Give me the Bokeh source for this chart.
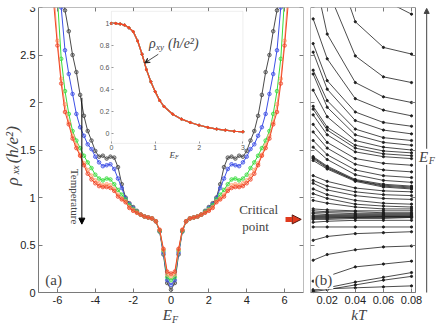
import math
from bokeh.plotting import figure
from bokeh.layouts import row
from bokeh.models import (Range1d, LinearAxis, FixedTicker, CustomJSTickFormatter,
                          BoxAnnotation, Label, Arrow, NormalHead, VeeHead)
from bokeh.embed import file_html
from bokeh.resources import INLINE

# ---------------- data: panel (a) (read for E_F >= 0, curves are symmetric) ----------
ef_pos = [0.0, 0.2, 0.4, 0.6, 0.8, 1.0, 1.2, 1.4, 1.6, 1.8, 2.0, 2.2, 2.4, 2.6, 2.8,
          3.0, 3.2, 3.4, 3.6, 3.8, 4.0, 4.2, 4.4, 4.6, 4.8, 5.0, 5.2, 5.4, 5.6, 5.8,
          6.0, 6.2, 6.4]
rho_t1 = [0.03, 0.10, 0.40, 0.64, 0.75, 0.78, 0.79, 0.80, 0.82, 0.86, 0.90, 0.94, 1.00,
          1.14, 1.32, 1.42, 1.43, 1.41, 1.44, 1.43, 1.49, 1.60, 1.70, 1.86, 2.08, 2.32,
          2.50, 2.75, 2.97, 3.30, 3.70, 4.20, 4.80]
rho_t2 = [0.08, 0.13, 0.42, 0.65, 0.75, 0.78, 0.79, 0.80, 0.82, 0.85, 0.89, 0.93, 0.99,
          1.10, 1.20, 1.30, 1.35, 1.34, 1.33, 1.37, 1.43, 1.51, 1.56, 1.65, 1.74, 1.88,
          2.09, 2.30, 2.55, 3.00, 3.50, 4.00, 4.50]
rho_t3 = [0.13, 0.16, 0.44, 0.65, 0.75, 0.78, 0.79, 0.80, 0.82, 0.85, 0.88, 0.92, 0.98,
          1.03, 1.08, 1.14, 1.19, 1.20, 1.18, 1.20, 1.24, 1.31, 1.37, 1.44, 1.52, 1.60,
          1.70, 1.88, 2.12, 2.46, 3.10, 3.70, 4.30]
rho_t4 = [0.17, 0.19, 0.45, 0.66, 0.75, 0.78, 0.79, 0.80, 0.82, 0.84, 0.87, 0.90, 0.96,
          0.99, 1.03, 1.09, 1.13, 1.14, 1.13, 1.15, 1.18, 1.23, 1.29, 1.36, 1.45, 1.55,
          1.65, 1.79, 1.98, 2.25, 2.65, 3.20, 3.80]
rho_t5 = [0.20, 0.22, 0.46, 0.66, 0.75, 0.78, 0.79, 0.80, 0.82, 0.84, 0.86, 0.89, 0.95,
          0.98, 1.01, 1.07, 1.10, 1.11, 1.11, 1.12, 1.15, 1.19, 1.25, 1.34, 1.44, 1.52,
          1.62, 1.77, 1.90, 2.20, 2.60, 3.05, 3.50]
curve_colors = ["#4a4a4a", "#3d4fe6", "#36dc3c", "#ffa274", "#f04628"]

# inset: rho_xy vs E_F
inset_ef = [0.0, 0.1, 0.2, 0.3, 0.4, 0.5, 0.6, 0.7, 0.8, 0.9, 1.0, 1.1, 1.2, 1.4, 1.6,
            1.8, 2.0, 2.2, 2.4, 2.6, 2.8, 3.0]
inset_rho_xy = [1.0, 1.0, 0.995, 0.985, 0.96, 0.925, 0.84, 0.72, 0.58, 0.47, 0.38, 0.30,
                0.245, 0.175, 0.13, 0.10, 0.075, 0.055, 0.04, 0.03, 0.02, 0.015]

x_ticks = [-6, -4, -2, 0, 2, 4, 6]
y_ticks = [0, 0.5, 1, 1.5, 2, 2.5, 3]
inset_x_ticks = [0, 1, 2, 3]
inset_y_ticks = [0, 0.2, 0.4, 0.6, 0.8, 1]

# ---------------- data: panel (b) rho_xx vs kT, one line per E_F ----------------
kt_values = [0.01, 0.02, 0.04, 0.06, 0.08]
kt_ticks = [0.02, 0.04, 0.06, 0.08]
upper_lines = [
    [4.60, 4.00, 3.40, 3.08, 2.93],
    [4.40, 3.70, 2.85, 2.58, 2.51],
    [3.90, 3.20, 2.49, 2.27, 2.21],
    [3.40, 2.72, 2.21, 2.06, 2.00],
    [2.88, 2.46, 2.04, 1.92, 1.86],
    [2.62, 2.23, 1.90, 1.79, 1.75],
    [2.53, 2.14, 1.81, 1.71, 1.67],
    [2.34, 2.02, 1.72, 1.63, 1.60],
    [2.30, 1.95, 1.66, 1.58, 1.55],
    [2.13, 1.85, 1.60, 1.53, 1.50],
    [1.96, 1.74, 1.55, 1.49, 1.47],
    [1.93, 1.71, 1.52, 1.46, 1.44],
    [1.87, 1.66, 1.48, 1.43, 1.41],
    [1.77, 1.58, 1.41, 1.36, 1.34],
    [1.69, 1.52, 1.35, 1.29, 1.27],
    [1.60, 1.45, 1.29, 1.23, 1.21],
    [1.53, 1.40, 1.24, 1.18, 1.16],
]
thick_lines = [
    [1.43, 1.33, 1.19, 1.14, 1.12],
    [1.42, 1.32, 1.18, 1.13, 1.11],
    [1.41, 1.31, 1.18, 1.12, 1.10],
    [1.39, 1.30, 1.17, 1.11, 1.09],
]
middle_lines = [
    [1.23, 1.17, 1.10, 1.07, 1.06],
    [1.18, 1.12, 1.06, 1.03, 1.02],
    [1.15, 1.08, 1.02, 0.99, 0.98],
    [1.09, 1.03, 0.97, 0.94, 0.93],
    [1.04, 0.99, 0.93, 0.91, 0.90],
    [0.97, 0.94, 0.90, 0.88, 0.88],
]
critical_lines = [
    [0.88, 0.87, 0.86, 0.86, 0.86],
    [0.86, 0.85, 0.85, 0.84, 0.84],
    [0.84, 0.84, 0.83, 0.83, 0.83],
    [0.83, 0.82, 0.82, 0.82, 0.82],
    [0.81, 0.81, 0.81, 0.81, 0.81],
    [0.80, 0.80, 0.80, 0.80, 0.80],
    [0.79, 0.79, 0.79, 0.80, 0.80],
    [0.78, 0.78, 0.79, 0.79, 0.79],
    [0.77, 0.77, 0.78, 0.78, 0.79],
]
lower_lines = [
    [0.74, 0.75, 0.76, 0.76, 0.76],
    [0.69, 0.69, 0.69, 0.69, 0.69],
    [0.55, 0.59, 0.62, 0.63, 0.64],
    [0.34, 0.40, 0.45, 0.48, 0.49],
    [0.12, 0.17, 0.27, 0.30, 0.33],
    [0.02, 0.05, 0.11, 0.16, 0.21],
    [0.01, 0.03, 0.08, 0.13, 0.17],
    [0.03, 0.04, 0.05, 0.06, 0.07],
]

SERIF = "Liberation Serif"
SANS = "Liberation Sans"
AXC = "#7a7a7a"

# common vertical range: frame also covers the label strip below rho = 0
Y_LO, Y_HI = -0.368, 3.0


def make_axis(ticks, labels=True, size="11px", tick_in=4, **kw):
    return LinearAxis(
        ticker=FixedTicker(ticks=ticks, minor_ticks=[]),
        formatter=CustomJSTickFormatter(code="return tick.toString()" if labels else "return ''"),
        major_tick_in=tick_in, major_tick_out=0, minor_tick_in=0, minor_tick_out=0,
        axis_line_color=AXC, major_tick_line_color=AXC,
        major_label_text_font=SANS, major_label_text_font_size=size,
        major_label_text_color="#222222", major_label_standoff=3, **kw)


def mirror(vals):
    return list(reversed(vals[1:])) + list(vals)


ef_full = [-e for e in reversed(ef_pos[1:])] + ef_pos

# ================= panel (a) =================
X_LO, X_HI = -7.0, 7.0
X_FRAME_LO = X_LO - 38 / (265 / 14)   # frame also covers the left label strip
p1 = figure(width=306, height=327, x_range=Range1d(X_FRAME_LO, X_HI),
            y_range=Range1d(Y_LO, Y_HI),
            x_axis_location=None, y_axis_location=None, output_backend="svg",
            toolbar_location=None, min_border_left=0, min_border_right=3,
            min_border_top=7, min_border_bottom=0, outline_line_color=None)
p1.grid.visible = False

p1.add_layout(make_axis(x_ticks, fixed_location=0, bounds=(X_LO, X_HI)), "below")
p1.add_layout(make_axis(y_ticks, fixed_location=X_LO, bounds=(0, 3)), "left")
p1.add_layout(make_axis(y_ticks, labels=False, fixed_location=X_HI, bounds=(0, 3)), "right")
p1.add_layout(make_axis(x_ticks, labels=False, fixed_location=3, bounds=(X_LO, X_HI)), "above")

for vals, col in zip([rho_t1, rho_t2, rho_t3, rho_t4, rho_t5], curve_colors):
    full = mirror(vals)
    p1.line(ef_full, full, line_color=col, line_width=1)
    p1.scatter(ef_full, full, marker="circle", size=3.6, line_color=col, fill_color=col,
               fill_alpha=0.3, line_width=0.8)

# y-axis title, rotated: rho_xx (h/e^2)
YL_X = X_LO - 26 / (265 / 14)
p1.add_layout(Label(x=YL_X, y=1.126, text="ρ", angle=math.pi / 2, text_font=SERIF,
                    text_font_style="italic", text_font_size="17px", text_align="left",
                    text_baseline="middle"))
p1.add_layout(Label(x=YL_X, y=1.245, x_offset=3, text="xx", angle=math.pi / 2,
                    text_font=SERIF, text_font_style="italic", text_font_size="10px",
                    text_align="left", text_baseline="middle"))
p1.add_layout(Label(x=YL_X, y=1.36, text="(h/e²)", angle=math.pi / 2, text_font=SERIF,
                    text_font_style="italic", text_font_size="17px", text_align="left",
                    text_baseline="middle"))

# inset placed through extra ranges
INS_L, INS_R, INS_B, INS_T = -3.15, 3.8, 1.57, 2.96
IX0, IX1, IY0, IY1 = 0.0, 3.0, -0.09, 1.11
sx = (IX1 - IX0) / (INS_R - INS_L)
sy = (IY1 - IY0) / (INS_T - INS_B)
p1.extra_x_ranges = {"ix": Range1d(IX0 + (X_FRAME_LO - INS_L) * sx, IX0 + (X_HI - INS_L) * sx)}
p1.extra_y_ranges = {"iy": Range1d(IY0 + (Y_LO - INS_B) * sy, IY0 + (Y_HI - INS_B) * sy)}
ins = dict(x_range_name="ix", y_range_name="iy")

p1.add_layout(BoxAnnotation(left=IX0, right=IX1, bottom=IY0, top=IY1, fill_color="white",
                            fill_alpha=1, line_color="#c8c8c8", line_width=1,
                            level="annotation", **ins))
for col in curve_colors:
    p1.line(inset_ef, inset_rho_xy, line_color=col, line_width=1.2, level="overlay", **ins)
    p1.scatter(inset_ef, inset_rho_xy, size=2, color=col, level="overlay", **ins)

inset_axes = [
    make_axis(inset_x_ticks, size="7px", tick_in=2, fixed_location=IY0, bounds=(IX0, IX1),
              level="overlay", **ins),
    make_axis(inset_y_ticks, size="7px", tick_in=2, fixed_location=IX0, bounds=(IY0, IY1),
              level="overlay", **ins),
]
for a in inset_axes:
    a.axis_line_color = None
    a.major_label_text_color = "#555555"
    a.major_tick_line_color = "#999999"
    a.major_label_standoff = 2
p1.add_layout(inset_axes[0], "below")
p1.add_layout(inset_axes[1], "left")

p1.add_layout(Label(x=1.45, y=-0.2, text="E", text_font=SERIF, text_font_style="italic",
                    text_font_size="9px", text_align="right", text_baseline="middle",
                    level="overlay", **ins))
p1.add_layout(Label(x=1.45, y=-0.2, y_offset=-2, text="F", text_font=SERIF,
                    text_font_style="italic", text_font_size="6px", text_align="left",
                    text_baseline="middle", level="overlay", **ins))
p1.add_layout(Label(x=0.86, y=0.82, text="ρ", text_font=SERIF, text_font_style="italic",
                    text_font_size="14px", text_baseline="middle", level="overlay", **ins))
p1.add_layout(Label(x=0.86, y=0.82, x_offset=7, y_offset=-4, text="xy", text_font=SERIF,
                    text_font_style="italic", text_font_size="9px", text_baseline="middle",
                    level="overlay", **ins))
p1.add_layout(Label(x=0.86, y=0.82, x_offset=19, text="(h/e²)", text_font=SERIF,
                    text_font_style="italic", text_font_size="14px", text_baseline="middle",
                    level="overlay", **ins))
p1.add_layout(Arrow(x_start=1.07, y_start=0.72, x_end=0.76, y_end=0.64,
                    end=VeeHead(size=5, line_color="#222222", line_width=0.8),
                    line_color="#222222", line_width=0.8, level="overlay", **ins))

# annotations panel (a)
p1.add_layout(Arrow(x_start=-4.71, y_start=2.05, x_end=-4.71, y_end=0.72,
                    end=NormalHead(size=6, fill_color="black", line_color="black"),
                    line_color="black", line_width=1))
p1.add_layout(Label(x=-5.07, y=1.01, text="Temperature", angle=-math.pi / 2,
                    text_font=SERIF, text_font_size="11px", text_align="center",
                    text_baseline="middle"))
p1.add_layout(Label(x=-6.2, y=0.13, text="(a)", text_font=SERIF, text_font_size="15px",
                    text_align="center", text_baseline="middle"))
p1.add_layout(Label(x=4.63, y=0.87, text="Critical", text_font=SERIF, text_font_size="13px",
                    text_align="center", text_baseline="middle"))
p1.add_layout(Label(x=4.47, y=0.70, text="point", text_font=SERIF, text_font_size="13px",
                    text_align="center", text_baseline="middle"))
p1.add_layout(Arrow(x_start=6.05, y_start=0.77, x_end=6.88, y_end=0.77,
                    end=NormalHead(size=9, fill_color="#e03a1e", line_color="#5a1a10",
                                   line_width=1),
                    line_color="#e03a1e", line_width=5))
p1.add_layout(Label(x=0, y=-0.24, x_offset=1, text="E", text_font=SERIF,
                    text_font_style="italic", text_font_size="15px", text_align="right",
                    text_baseline="middle"))
p1.add_layout(Label(x=0, y=-0.24, x_offset=1, y_offset=-4, text="F", text_font=SERIF,
                    text_font_style="italic", text_font_size="10px", text_align="left",
                    text_baseline="middle"))

# ================= panel (b) =================
K_LO, K_BOX, K_HI = 0.0081, 0.0828, 0.0985
p2 = figure(width=131, height=327, x_range=Range1d(K_LO, K_HI), y_range=Range1d(Y_LO, Y_HI),
            x_axis_location=None, y_axis_location=None, output_backend="svg",
            toolbar_location=None, min_border_left=4, min_border_right=0,
            min_border_top=7, min_border_bottom=0, outline_line_color=None)
p2.grid.visible = False
p2.add_layout(make_axis(kt_ticks, fixed_location=0, bounds=(K_LO, K_BOX)), "below")
p2.add_layout(make_axis(y_ticks, labels=False, fixed_location=K_LO, bounds=(0, 3)), "left")
p2.add_layout(make_axis(y_ticks, labels=False, fixed_location=K_BOX, bounds=(0, 3)), "right")
p2.add_layout(make_axis(kt_ticks, labels=False, fixed_location=3, bounds=(K_LO, K_BOX)), "above")

for group in (upper_lines, thick_lines, middle_lines, critical_lines, lower_lines):
    for vals in group:
        p2.line(kt_values, vals, line_color="#1e1e1e", line_width=0.8)
        p2.scatter(kt_values, vals, size=2.2, color="#1e1e1e")

p2.add_layout(Label(x=0.0174, y=0.13, text="(b)", text_font=SERIF, text_font_size="15px",
                    text_align="center", text_baseline="middle",
                    background_fill_color="white", padding=1))
p2.add_layout(Label(x=0.0425, y=-0.24, text="kT", text_font=SERIF, text_font_style="italic",
                    text_font_size="15px", text_align="center", text_baseline="middle"))
p2.add_layout(Arrow(x_start=0.0908, y_start=0.0, x_end=0.0908, y_end=2.99,
                    end=NormalHead(size=5, fill_color="#444444", line_color="#444444"),
                    line_color="#444444", line_width=1))
p2.add_layout(Label(x=0.0908, y=1.43, x_offset=-3, text="E", text_font=SERIF,
                    text_font_style="italic", text_font_size="15px", text_align="center",
                    text_baseline="middle", background_fill_color="white"))
p2.add_layout(Label(x=0.0908, y=1.43, x_offset=2, y_offset=-4, text="F", text_font=SERIF,
                    text_font_style="italic", text_font_size="10px", text_align="left",
                    text_baseline="middle", background_fill_color="white"))

layout = row(p1, p2)
open("out.html", "w").write(file_html(layout, INLINE))
